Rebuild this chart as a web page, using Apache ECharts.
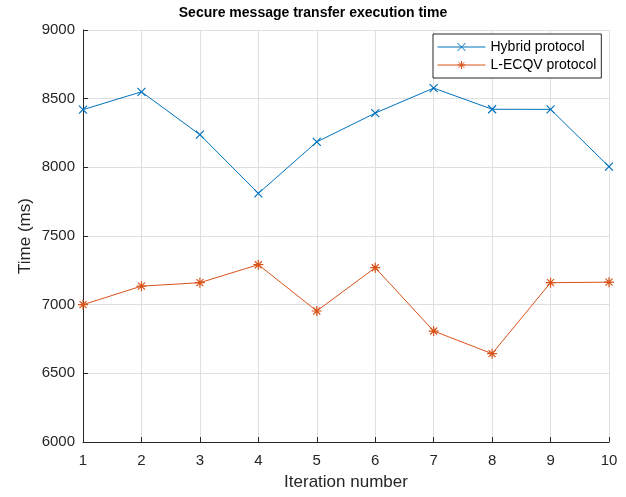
<!DOCTYPE html>
<html>
<head>
<meta charset="utf-8">
<script src="https://cdn.jsdelivr.net/npm/echarts@6/dist/echarts.min.js"></script>
<style>
  html, body { margin: 0; padding: 0; background: #fff; }
  #chart { width: 626px; height: 497px; }
</style>
</head>
<body>
<div id="chart"></div>
<script>
// Iteration index and measured execution times (ms)
const iterations = [1, 2, 3, 4, 5, 6, 7, 8, 9, 10];
const hybridTimes = [8420, 8550, 8238, 7810, 8185, 8395, 8577, 8423, 8422, 8005];
const lecqvTimes = [7000, 7135, 7160, 7291, 6954, 7269, 6808, 6643, 7160, 7164];
const yTicks = [6000, 6500, 7000, 7500, 8000, 8500, 9000];

const blue = '#0072BD';
const orange = '#D95319';
const ink = '#262626';
const font = 'Liberation Sans, Arial, Helvetica, sans-serif';

// MATLAB-style 'x' and '*' markers drawn as stroked paths
const crossMark = 'path://M0,0L10,10M10,0L0,10';
const starMark = 'path://M5,0L5,10M0,5L10,5M1.5,1.5L8.5,8.5M8.5,1.5L1.5,8.5';

const chart = echarts.init(document.getElementById('chart'), null, { renderer: 'canvas' });

chart.setOption({
  backgroundColor: '#fff',
  animation: false,
  title: {
    text: 'Secure message transfer execution time',
    left: 'center',
    top: 1,
    textStyle: { fontFamily: font, fontSize: 14, fontWeight: 'bold', color: '#000' }
  },
  grid: { left: 83, right: 17, top: 30, bottom: 55 },
  legend: {
    left: 433,
    top: 34,
    orient: 'vertical',
    backgroundColor: '#fff',
    borderColor: ink,
    borderWidth: 1,
    borderRadius: 0,
    padding: [6, 5, 6, 4],
    itemGap: 4,
    itemWidth: 48,
    itemHeight: 10,
    lineStyle: { width: 1 },
    itemStyle: { borderWidth: 1 },
    textStyle: { fontFamily: font, fontSize: 14, color: '#000' },
    data: ['Hybrid protocol', 'L-ECQV protocol']
  },
  xAxis: {
    type: 'value',
    min: 1,
    max: 10,
    interval: 1,
    name: 'Iteration number',
    nameLocation: 'middle',
    nameGap: 32,
    nameMoveOverlap: false,
    nameTextStyle: { fontFamily: font, fontSize: 17, color: ink },
    axisLine: { show: true, lineStyle: { color: ink, width: 1 } },
    axisTick: { show: true, inside: true, length: 5, lineStyle: { color: ink } },
    axisLabel: { fontFamily: font, fontSize: 15, color: ink, margin: 11 },
    splitLine: { show: true, lineStyle: { color: '#dfdfdf', width: 1 } }
  },
  yAxis: {
    type: 'value',
    min: 6000,
    max: 9000,
    interval: 500,
    name: 'Time (ms)',
    nameLocation: 'middle',
    nameGap: 49,
    nameMoveOverlap: false,
    nameTextStyle: { fontFamily: font, fontSize: 17, color: ink },
    axisLine: { show: true, lineStyle: { color: ink, width: 1 } },
    axisTick: { show: true, inside: true, length: 5, lineStyle: { color: ink } },
    axisLabel: {
      fontFamily: font, fontSize: 15, color: ink, margin: 8,
      formatter: v => (yTicks.indexOf(v) >= 0 ? String(v) : '')
    },
    splitLine: { show: true, lineStyle: { color: '#dfdfdf', width: 1 } }
  },
  series: [
    {
      name: 'Hybrid protocol',
      type: 'line',
      data: iterations.map((it, i) => [it, hybridTimes[i]]),
      symbol: crossMark,
      symbolSize: 8,
      showAllSymbol: true,
      lineStyle: { color: blue, width: 1 },
      itemStyle: { color: 'rgba(0,0,0,0)', borderColor: blue, borderWidth: 1.2 }
    },
    {
      name: 'L-ECQV protocol',
      type: 'line',
      data: iterations.map((it, i) => [it, lecqvTimes[i]]),
      symbol: starMark,
      symbolSize: 10,
      showAllSymbol: true,
      lineStyle: { color: orange, width: 1 },
      itemStyle: { color: 'rgba(0,0,0,0)', borderColor: orange, borderWidth: 1.2 }
    }
  ]
});
</script>
</body>
</html>
